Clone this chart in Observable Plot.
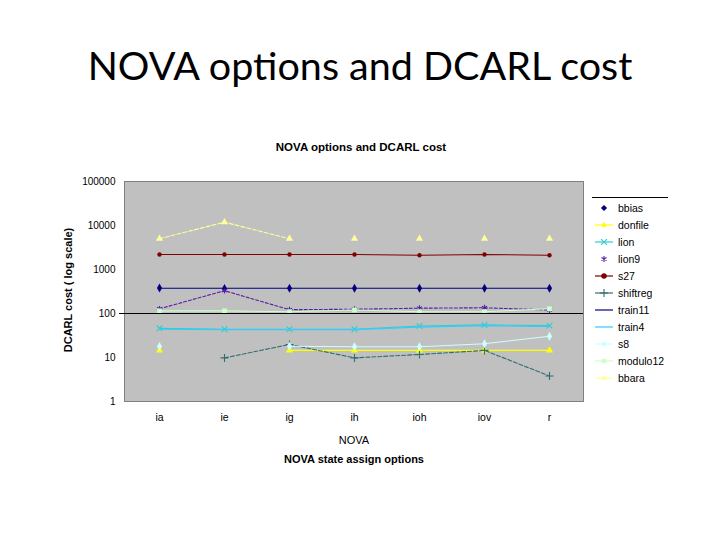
<!DOCTYPE html>
<html><head><meta charset="utf-8">
<script src="https://cdn.jsdelivr.net/npm/d3@7"></script>
<script src="https://cdn.jsdelivr.net/npm/@observablehq/plot@0.6"></script>
<style>
body{margin:0;background:#fff;}
#page{position:relative;width:720px;height:540px;overflow:hidden;font-family:"Liberation Sans",Arial,sans-serif;color:#000;}
#page svg.plot{position:absolute;left:0;top:0;}
.t{position:absolute;white-space:nowrap;}
#title{left:0;top:42px;width:720px;text-align:center;font-family:Lato,"Open Sans",sans-serif;font-size:39.5px;line-height:46px;}
#ctitle{left:261px;top:140px;width:200px;text-align:center;font-size:11.5px;font-weight:bold;line-height:14px;}
#xlab{left:254px;top:433px;width:200px;text-align:center;font-size:11px;line-height:14px;}
#xsub{left:204px;top:452px;width:300px;text-align:center;font-size:11px;font-weight:bold;line-height:14px;}
#ylab{left:-32px;top:283px;width:200px;text-align:center;font-size:11px;font-weight:bold;line-height:14px;transform:rotate(-90deg);}
#legend{position:absolute;left:592px;top:197px;width:76px;border-top:1px solid #000;padding-top:1px;}
.li{height:17px;display:flex;align-items:center;font-size:10.5px;}
.li svg{margin-left:1px;margin-right:3px;}
</style></head>
<body><div id="page">
<div class="t" id="title">NOVA options and DCARL cost</div>
<div class="t" id="ctitle">NOVA options and DCARL cost</div>
<div class="t" id="xlab">NOVA</div>
<div class="t" id="xsub">NOVA state assign options</div>
<div class="t" id="ylab">DCARL cost ( log scale)</div>
<div id="legend"></div>
</div>
<script>
const categories = ["ia","ie","ig","ih","ioh","iov","r"];
const yTicks = [1,10,100,1000,10000,100000];
const seriesNames = ["bbias","donfile","lion","lion9","s27","shiftreg","train11","train4","s8","modulo12","bbara"];
const bbias    = [380, 370, 375, 375, 375, 375, 375];
const donfile  = [14.5, null, 14.5, 14.5, 14.5, 14.5, 14.5];
const lion     = [46, 44, 44, 44, 52, 55, 53];
const lion9    = [128, 330, 122, 125, 132, 135, 120];
const s27      = [2200, 2200, 2200, 2200, 2100, 2200, 2100];
const shiftreg = [null, 9.8, 19.8, 9.8, 11.7, 14.5, 3.8];
const train11  = [375, 375, 375, 375, 375, 375, 375];
const train4   = [44, 43, 43, 43, 49, 53, 50];
const s8       = [17.8, null, 18, 17.5, 17.5, 20.5, 30.5];
const modulo12 = [115, 115, 110, 120, 110, 110, 128];
const bbara    = [5000, 11900, 5000, 5000, 5000, 5000, 5000];
const values = {bbias, donfile, lion, lion9, s27, shiftreg, train11, train4, s8, modulo12, bbara};

// styles
const style = {
  bbias:    {color:"#000080", symbol:"diamond", line:false},
  donfile:  {color:"#ffff00", symbol:"triangle", line:true},
  lion:     {color:"#33cccc", symbol:"times", line:true},
  lion9:    {color:"#5a1fa8", symbol:"asterisk", line:true, dash:"3,2", legendLine:false},
  s27:      {color:"#800000", symbol:"circle", line:true},
  shiftreg: {color:"#2f6f6f", symbol:"plus", line:true, dash:"4,2"},
  train11:  {color:"#000080", symbol:null, line:true},
  train4:   {color:"#33ccff", symbol:null, line:true},
  s8:       {color:"#ccffff", symbol:"diamond", line:true},
  modulo12: {color:"#ccffcc", symbol:"square", line:true},
  bbara:    {color:"#ffff99", symbol:"triangle", line:true, dash:"4,2", lineUpTo:"ig"}
};
const strokeSymbols = new Set(["times","asterisk","plus"]);

const rows = [];
for (const s of seriesNames) categories.forEach((c,i) => rows.push({series:s, cat:c, value:values[s][i]}));

const marks = [Plot.frame({fill:"#c0c0c0", stroke:"#808080"})];
for (const s of seriesNames) {
  const st = style[s];
  let d = rows.filter(r => r.series === s);
  if (st.line) {
    let ld = d;
    if (st.lineUpTo) { const k = categories.indexOf(st.lineUpTo); ld = d.filter(r => categories.indexOf(r.cat) <= k); }
    marks.push(Plot.line(ld, {x:"cat", y:"value", stroke:st.color, strokeWidth:1.1, strokeDasharray:st.dash || null}));
  }
  if (st.symbol) {
    const pd = d.filter(r => r.value != null);
    if (strokeSymbols.has(st.symbol))
      marks.push(Plot.dot(pd, {x:"cat", y:"value", symbol:st.symbol, stroke:st.color, strokeWidth:1.1, r:2.7}));
    else
      marks.push(Plot.dot(pd, {x:"cat", y:"value", symbol:st.symbol, fill:st.color, stroke:"none", r:st.symbol==="circle"?2.2:2.7}));
  }
}
marks.push(Plot.ruleY([100], {stroke:"#000", strokeWidth:1.2, insetLeft:-5}));
marks.push(Plot.axisY({ticks:yTicks, tickFormat:d3.format("d"), tickSize:0, tickPadding:9, fontSize:10, label:null}));
marks.push(Plot.axisX({tickSize:0, tickPadding:12, fontSize:10.5, label:null}));

const chart = Plot.plot({
  width:720, height:540,
  marginLeft:124, marginRight:137, marginTop:181, marginBottom:139,
  style:{background:"transparent", fontFamily:"'Liberation Sans', Arial, sans-serif", color:"#000"},
  x:{type:"point", domain:categories, padding:0.5},
  y:{type:"log", domain:[1,100000]},
  marks
});
chart.classList.add("plot");
document.getElementById("page").prepend(chart);

// legend
const leg = document.getElementById("legend");
for (const s of seriesNames) {
  const st = style[s];
  const item = document.createElement("div"); item.className = "li";
  const showLine = st.line && st.legendLine !== false;
  const sw = d3.create("svg").attr("width",22).attr("height",12);
  if (showLine) sw.append("line").attr("x1",2).attr("x2",20).attr("y1",6).attr("y2",6).attr("stroke",st.color).attr("stroke-width",1.2);
  if (st.symbol) {
    const sym = {diamond:d3.symbolDiamond2, triangle:d3.symbolTriangle2, times:d3.symbolTimes, asterisk:d3.symbolAsterisk, circle:d3.symbolCircle, plus:d3.symbolPlus, square:d3.symbolSquare2}[st.symbol];
    const p = sw.append("path").attr("transform","translate(11,6)").attr("d", d3.symbol(sym, 24)());
    if (strokeSymbols.has(st.symbol)) p.attr("fill","none").attr("stroke",st.color).attr("stroke-width",1.1);
    else p.attr("fill",st.color);
  }
  item.appendChild(sw.node());
  const tx = document.createElement("span"); tx.textContent = s;
  item.appendChild(tx);
  leg.appendChild(item);
}
</script>
</body></html>
